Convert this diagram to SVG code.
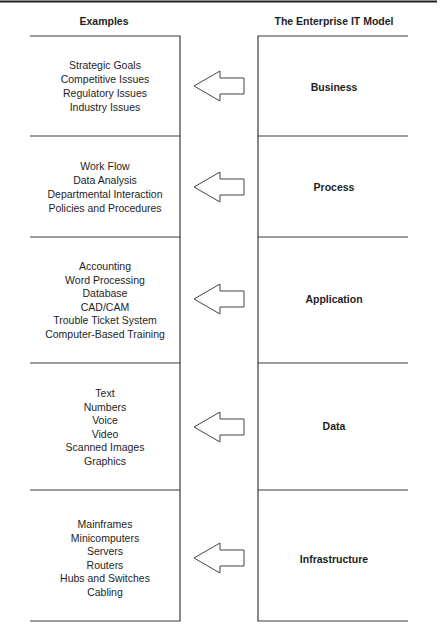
<svg xmlns="http://www.w3.org/2000/svg" width="444" height="643" viewBox="0 0 444 643">
<style>
.ln{stroke:#3a3a3a;stroke-width:1.2;fill:none}
.ex{font-family:"Liberation Sans",Arial,sans-serif;font-size:10.5px;fill:#1e1e1e;text-anchor:middle}
.hd{font-family:"Liberation Sans",Arial,sans-serif;font-size:10.5px;font-weight:bold;fill:#1e1e1e;text-anchor:middle}
.ar{fill:#fff;stroke:#444;stroke-width:1}
</style>
<defs>
<path id="arrow" d="M194,0 L220,-15 L220,-8 L244,-8 L244,8 L220,8 L220,15 Z"/>
</defs>
<rect width="444" height="643" fill="#fff"/>
<line x1="0" y1="1.5" x2="437" y2="1.5" stroke="#222" stroke-width="2"/>
<g id="headers">
<text class="hd" x="104" y="25">Examples</text>
<text class="hd" x="334" y="25">The Enterprise IT Model</text>
</g>
<g id="frames">
<path class="ln" d="M30,36 H180 V621 H30 M30,136 H180 M30,237 H180 M30,363 H180 M30,490 H180"/>
<path class="ln" d="M408,36 H258 V621 H408 M258,136 H408 M258,237 H408 M258,363 H408 M258,490 H408"/>
</g>
<g id="business-examples">
<text class="ex" x="105" y="69">Strategic Goals</text>
<text class="ex" x="105" y="83">Competitive Issues</text>
<text class="ex" x="105" y="97">Regulatory Issues</text>
<text class="ex" x="105" y="111">Industry Issues</text>
</g>
<g id="process-examples">
<text class="ex" x="105" y="170">Work Flow</text>
<text class="ex" x="105" y="184">Data Analysis</text>
<text class="ex" x="105" y="198">Departmental Interaction</text>
<text class="ex" x="105" y="212">Policies and Procedures</text>
</g>
<g id="application-examples">
<text class="ex" x="105" y="270">Accounting</text>
<text class="ex" x="105" y="283.5">Word Processing</text>
<text class="ex" x="105" y="297">Database</text>
<text class="ex" x="105" y="310.5">CAD/CAM</text>
<text class="ex" x="105" y="324">Trouble Ticket System</text>
<text class="ex" x="105" y="337.5">Computer-Based Training</text>
</g>
<g id="data-examples">
<text class="ex" x="105" y="397">Text</text>
<text class="ex" x="105" y="410.5">Numbers</text>
<text class="ex" x="105" y="424">Voice</text>
<text class="ex" x="105" y="437.5">Video</text>
<text class="ex" x="105" y="451">Scanned Images</text>
<text class="ex" x="105" y="464.5">Graphics</text>
</g>
<g id="infrastructure-examples">
<text class="ex" x="105" y="528">Mainframes</text>
<text class="ex" x="105" y="541.5">Minicomputers</text>
<text class="ex" x="105" y="555">Servers</text>
<text class="ex" x="105" y="568.5">Routers</text>
<text class="ex" x="105" y="582">Hubs and Switches</text>
<text class="ex" x="105" y="595.5">Cabling</text>
</g>
<g id="business"><text class="hd" x="334" y="91">Business</text></g>
<g id="process"><text class="hd" x="334" y="191">Process</text></g>
<g id="application"><text class="hd" x="334" y="303">Application</text></g>
<g id="data"><text class="hd" x="334" y="430">Data</text></g>
<g id="infrastructure"><text class="hd" x="334" y="563">Infrastructure</text></g>
<g id="connectors">
<use href="#arrow" class="ar" transform="translate(0,86)"/>
<use href="#arrow" class="ar" transform="translate(0,187)"/>
<use href="#arrow" class="ar" transform="translate(0,299)"/>
<use href="#arrow" class="ar" transform="translate(0,427)"/>
<use href="#arrow" class="ar" transform="translate(0,558)"/>
</g>
</svg>
